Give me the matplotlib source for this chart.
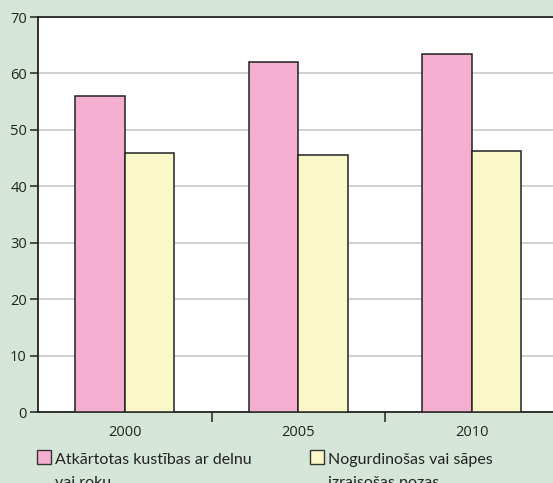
import numpy as np
import matplotlib.pyplot as plt
from matplotlib.patches import Rectangle

# data
years = ["2000", "2005", "2010"]
repetitive = [56.0, 62.1, 63.4]
tiring = [45.9, 45.5, 46.3]
labels = ["Atkārtotas kustības ar delnu\nvai roku",
          "Nogurdinošas vai sāpes\nizraisošas pozas"]

bg = "#d5e6d9"
pink = "#f4afd0"
yellow = "#faf8c8"

plt.rcParams['font.family'] = ['Open Sans', 'DejaVu Sans']

fig = plt.figure(figsize=(5.53, 4.83), dpi=100, facecolor=bg)
ax = fig.add_axes([38/553, 1-412/483, 1-38/553+0.01, 395/483])
ax.set_facecolor("white")

x = np.arange(len(years))
w = 0.285
ax.bar(x - w/2, repetitive, w, color=pink, edgecolor="#222222", linewidth=1.1, zorder=3)
ax.bar(x + w/2, tiring, w, color=yellow, edgecolor="#222222", linewidth=1.1, zorder=3)

ax.set_xlim(-0.5, 2.5)
ax.set_ylim(0, 70)
ax.set_yticks(np.arange(0, 71, 10))
ax.yaxis.grid(True, color="#c8c8c8", linewidth=1.2, zorder=0)
ax.set_xticks(x)
ax.set_xticklabels(years)
ax.set_xticks([0.5, 1.5], minor=True)
ax.tick_params(axis="x", which="major", length=0, pad=9, labelsize=10.5, colors="#222222")
ax.tick_params(axis="x", which="minor", length=7, width=1.1, direction="out", color="#222222")
ax.tick_params(axis="y", length=6, width=1.1, direction="out", labelsize=10.5, colors="#222222", pad=2)
for s in ["left", "bottom", "top"]:
    ax.spines[s].set_color("#222222")
    ax.spines[s].set_linewidth(1.3)
ax.spines["right"].set_visible(False)

# legend drawn by hand below the axes, second line runs off the bottom edge
for i, (col, lab) in enumerate(zip([pink, yellow], labels)):
    x0 = [37, 310][i]
    fig.patches.append(Rectangle((x0/553, 1-464/483), 14/553, 14/483,
                                 transform=fig.transFigure, facecolor=col,
                                 edgecolor="#333333", linewidth=1.0))
    first, second = lab.split("\n")
    fig.text((x0+18)/553, 1-464/483, first, ha="left", va="baseline",
             fontsize=11.5, family=["Lato", "DejaVu Sans"], color="#222222")
    fig.text((x0+18)/553, 1-487/483, second, ha="left", va="baseline",
             fontsize=11.5, family=["Lato", "DejaVu Sans"], color="#222222")

fig.savefig("out.png", dpi=100, facecolor=bg)
